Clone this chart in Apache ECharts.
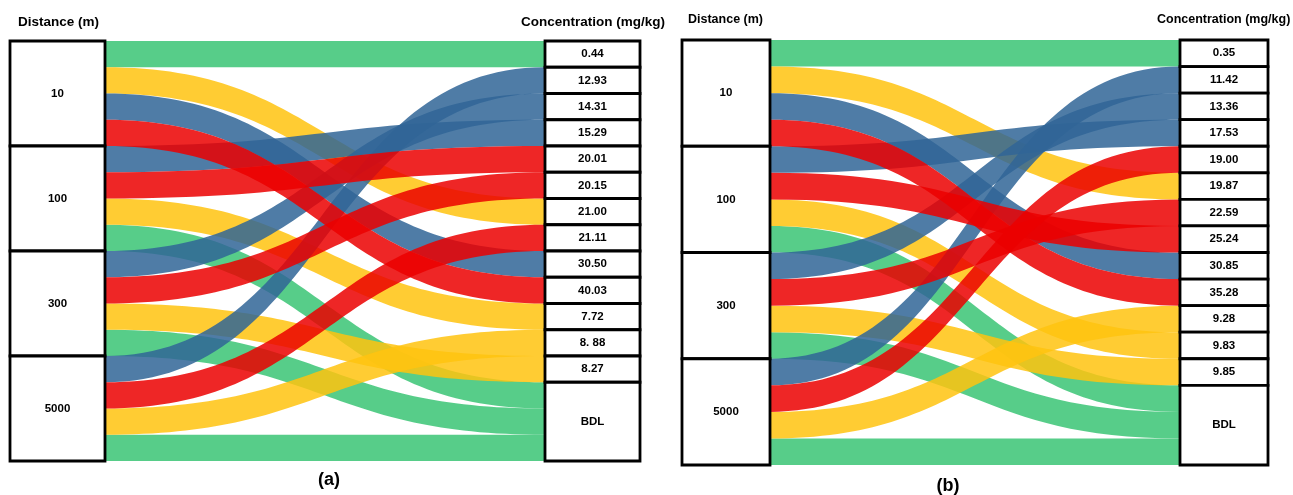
<!DOCTYPE html>
<html>
<head>
<meta charset="utf-8">
<script src="https://cdn.jsdelivr.net/npm/echarts@6/dist/echarts.min.js"></script>
<style>
  html, body { margin: 0; padding: 0; background: #fff; }
  #chart { width: 1293px; height: 495px; }
</style>
</head>
<body>
<div id="chart"></div>
<script>
// Source column: sampling distance from the site
const distances = ['10', '100', '300', '5000'];

// Target column of panel (a): concentration classes, top to bottom
const concentrationsA = ['0.44', '12.93', '14.31', '15.29', '20.01', '20.15', '21.00', '21.11', '30.50', '40.03', '7.72', '8. 88', '8.27', 'BDL'];
// Concentration reached by each element at 10 / 100 / 300 / 5000 m, panel (a)
const greenA  = ['0.44', 'BDL', 'BDL', 'BDL'];
const yellowA = ['21.00', '7.72', '8.27', '8. 88'];
const blueA   = ['30.50', '15.29', '14.31', '12.93'];
const redA    = ['40.03', '20.01', '20.15', '21.11'];

// Target column of panel (b)
const concentrationsB = ['0.35', '11.42', '13.36', '17.53', '19.00', '19.87', '22.59', '25.24', '30.85', '35.28', '9.28', '9.83', '9.85', 'BDL'];
const greenB  = ['0.35', 'BDL', 'BDL', 'BDL'];
const yellowB = ['19.87', '9.83', '9.85', '9.28'];
const blueB   = ['30.85', '17.53', '13.36', '11.42'];
const redB    = ['35.28', '25.24', '22.59', '19.00'];

// Each distance sends one equal-width band per element
const bandWeight = 1;

// Band colours (drawn at 0.85 opacity)
const COLORS = {
  green: '#39c474',
  yellow: '#ffc30f',
  blue: '#306596',
  red: '#eb0000'
};

const FONT = "'Liberation Sans', Arial, sans-serif";

function buildNodes(concs) {
  return distances.concat(concs).map(function (name) { return { name: name }; });
}

function buildLinks(groups) {
  const links = [];
  groups.forEach(function (g) {
    distances.forEach(function (d, i) {
      links.push({
        source: d,
        target: g.targets[i],
        value: bandWeight,
        lineStyle: { color: COLORS[g.color] }
      });
    });
  });
  return links;
}

function sankeySeries(concs, groups, box, labelSize) {
  return {
    type: 'sankey',
    left: box.left,
    top: box.top,
    width: box.width,
    height: box.height,
    nodeWidth: box.nodeWidth,
    nodeGap: 0,
    layoutIterations: 0,
    draggable: false,
    silent: true,
    emphasis: { disabled: true },
    itemStyle: { color: '#ffffff', borderColor: '#000000', borderWidth: 2.8 },
    lineStyle: { opacity: 0.85, curveness: 0.5 },
    label: {
      show: true,
      position: 'inside',
      color: '#000',
      fontFamily: FONT,
      fontWeight: 'bold',
      fontSize: labelSize
    },
    data: buildNodes(concs),
    links: buildLinks(groups)
  };
}

const chart = echarts.init(document.getElementById('chart'), null, { renderer: 'canvas' });

function caption(text, x, y, size, align) {
  return {
    type: 'text',
    x: x,
    y: y,
    silent: true,
    style: {
      text: text,
      fill: '#000',
      font: 'bold ' + size + 'px ' + FONT,
      textAlign: align,
      textVerticalAlign: 'middle'
    }
  };
}

chart.setOption({
  animation: false,
  backgroundColor: '#ffffff',
  series: [
    sankeySeries(concentrationsA, [
      { color: 'green', targets: greenA },
      { color: 'yellow', targets: yellowA },
      { color: 'blue', targets: blueA },
      { color: 'red', targets: redA }
    ], { left: 10, top: 41, width: 630, height: 420, nodeWidth: 95 }, 11.5),
    sankeySeries(concentrationsB, [
      { color: 'green', targets: greenB },
      { color: 'yellow', targets: yellowB },
      { color: 'blue', targets: blueB },
      { color: 'red', targets: redB }
    ], { left: 682, top: 40, width: 586, height: 425, nodeWidth: 88 }, 11.5)
  ],
  graphic: [
    caption('Distance (m)', 18, 22, 13.5, 'left'),
    caption('Concentration (mg/kg)', 521, 22, 13.5, 'left'),
    caption('(a)', 329, 480, 18, 'center'),
    caption('Distance (m)', 688, 20, 12.5, 'left'),
    caption('Concentration (mg/kg)', 1157, 20, 12.5, 'left'),
    caption('(b)', 948, 486, 18, 'center')
  ]
});
</script>
</body>
</html>
